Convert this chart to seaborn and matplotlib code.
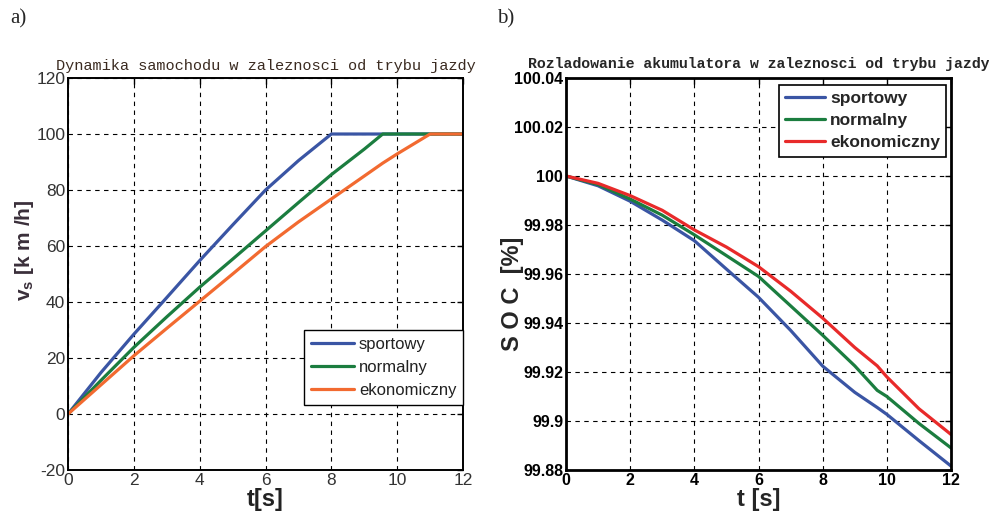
import numpy as np
import pandas as pd
import matplotlib
matplotlib.use('Agg')
import matplotlib.pyplot as plt
import seaborn as sns

sns.set_style("white")
plt.rcParams['font.family'] = ['Liberation Sans', 'DejaVu Sans']
plt.rcParams['axes.unicode_minus'] = False

# --- a) predkosc pojazdu
modes = ['sportowy', 'normalny', 'ekonomiczny']
t_v = [0, 1, 2, 3, 4, 5, 6, 7, 8, 9, 9.56, 10, 11, 12]
v_sport = [0, 14.8, 28.5, 41.6, 54.8, 67.5, 80, 90.5, 100, 100, 100, 100, 100, 100]
v_norm = [0, 12, 23.8, 34.7, 45.3, 55.3, 65.4, 75.5, 85.5, 94.6, 100, 100, 100, 100]
v_eko = [0, 10.4, 20.8, 30.6, 40.3, 50, 59.8, 68.6, 76.8, 85, 89.6, 92.9, 100, 100]

# --- b) stan naladowania akumulatora
t_soc = [0, 1, 2, 3, 4, 5, 6, 7, 8, 9, 9.7, 10, 11, 12]
soc_sport = [100, 99.996, 99.9897, 99.982, 99.9736, 99.962, 99.9505, 99.937, 99.9224,
             99.9117, 99.9055, 99.9027, 99.892, 99.8816]
soc_norm = [100, 99.9965, 99.9906, 99.984, 99.976, 99.9675, 99.959, 99.947, 99.935,
            99.9225, 99.9125, 99.910, 99.899, 99.889]
soc_eko = [100, 99.997, 99.992, 99.986, 99.978, 99.971, 99.963, 99.953, 99.942,
           99.930, 99.9225, 99.918, 99.905, 99.8945]

col_a = ['#3a55a4', '#1b7d3f', '#f26a30']
col_b = ['#3a55a4', '#1b7d3f', '#e82a2a']

df_v = pd.DataFrame({'t': t_v * 3,
                     'v': v_sport + v_norm + v_eko,
                     'tryb': sum([[m] * len(t_v) for m in modes], [])})
df_s = pd.DataFrame({'t': t_soc * 3,
                     'soc': soc_sport + soc_norm + soc_eko,
                     'tryb': sum([[m] * len(t_soc) for m in modes], [])})

fig = plt.figure(figsize=(9.89, 5.25), dpi=100)
ax1 = fig.add_axes([0.0688, 0.1048, 0.3994, 0.7466])
ax2 = fig.add_axes([0.5723, 0.1048, 0.3893, 0.7466])

sns.lineplot(data=df_v, x='t', y='v', hue='tryb', palette=col_a, linewidth=2.3, ax=ax1)
sns.lineplot(data=df_s, x='t', y='soc', hue='tryb', palette=col_b, linewidth=2.3, ax=ax2)

# wspolny styl osi (MATLAB)
for ax, lw in [(ax1, 1.4), (ax2, 2.0)]:
    ax.set_xlim(0, 12)
    ax.set_xticks(np.arange(0, 13, 2))
    ax.grid(True, linestyle=(0, (4, 4)), color='black', linewidth=0.8)
    for s in ax.spines.values():
        s.set_color('black')
        s.set_linewidth(lw)
    ax.tick_params(direction='in', top=True, right=True, length=4, width=1, colors='black')

ax1.set_ylim(-20, 120)
ax1.set_yticks(np.arange(-20, 121, 20))
ax1.tick_params(labelsize=12.5, pad=2)
for lab in ax1.get_xticklabels() + ax1.get_yticklabels():
    lab.set_color('#333333')
ax1.set_title('Dynamika samochodu w zaleznosci od trybu jazdy', family='Liberation Mono',
              fontsize=11, color='#3a2a20', pad=6)
ax1.set_xlabel('t[s]', fontsize=17, fontweight='bold', labelpad=0, color='#222222')
ax1.set_ylabel(r'$\mathregular{v_{s}}$ [k m /h]', fontsize=15, fontweight='bold',
               color='#3a2f3a')
ax1.yaxis.set_label_coords(-0.08, 0.56)
leg1 = ax1.legend(loc='lower right', bbox_to_anchor=(1.0, 0.166), fancybox=False,
                  edgecolor='black', framealpha=1, fontsize=12, handlelength=2.6,
                  borderpad=0.4, labelspacing=0.5, handletextpad=0.3, borderaxespad=0)
leg1.get_frame().set_linewidth(1.0)
for tx in leg1.get_texts():
    tx.set_color('#222222')

ax2.set_ylim(99.88, 100.04)
ax2.set_yticks([99.88, 99.9, 99.92, 99.94, 99.96, 99.98, 100, 100.02, 100.04])
ax2.set_yticklabels(['99.88', '99.9', '99.92', '99.94', '99.96', '99.98', '100',
                     '100.02', '100.04'])
ax2.tick_params(labelsize=11.5, pad=2)
for lab in ax2.get_xticklabels() + ax2.get_yticklabels():
    lab.set_fontweight('bold')
ax2.set_title('Rozladowanie akumulatora w zaleznosci od trybu jazdy', family='Liberation Mono',
              fontsize=10.7, fontweight='bold', pad=7)
ax2.set_xlabel('t [s]', fontsize=17, fontweight='bold', labelpad=0)
ax2.set_ylabel('S O C  [%]', fontsize=17, fontweight='bold')
ax2.yaxis.set_label_coords(-0.11, 0.45)
leg2 = ax2.legend(loc='upper right', bbox_to_anchor=(0.987, 0.982), fancybox=False,
                  edgecolor='black', framealpha=1, handlelength=2.3,
                  borderpad=0.35, labelspacing=0.4, handletextpad=0.3, borderaxespad=0,
                  prop={'weight': 'bold', 'size': 12.5})
leg2.get_frame().set_linewidth(1.2)

fig.text(0.010, 0.955, 'a)', family='Liberation Serif', fontsize=15)
fig.text(0.503, 0.955, 'b)', family='Liberation Serif', fontsize=15)

plt.savefig('out.png', dpi=100)
